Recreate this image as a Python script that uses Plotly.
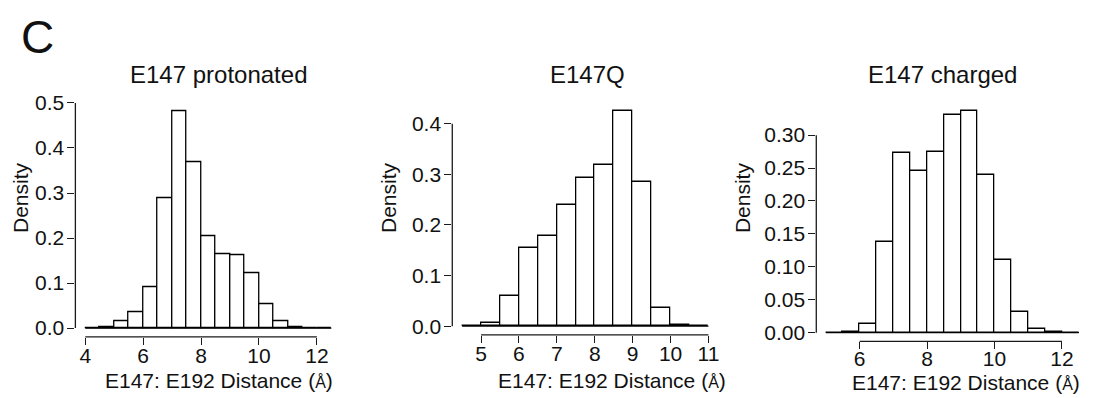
import plotly.graph_objects as go

W, H = 1103, 398

# ---- data (bin width 0.5, left edges) ----
p1_edges_start = 4.0
p1_density = [0.0, 0.0015, 0.0165, 0.035, 0.090, 0.288, 0.481, 0.368, 0.204,
              0.165, 0.161, 0.123, 0.0525, 0.0144, 0.002, 0.0007, 0.0]
p2_edges_start = 4.5
p2_density = [0.0, 0.007, 0.0594, 0.155, 0.178, 0.240, 0.292, 0.318, 0.426,
              0.286, 0.037, 0.002, 0.0]
p3_edges_start = 5.0
p3_density = [0.0, 0.0015, 0.0128, 0.138, 0.273, 0.246, 0.275, 0.330, 0.337,
              0.240, 0.111, 0.0314, 0.0059, 0.0005, 0.0]
bin_width = 0.5

titles = ["E147 protonated", "E147Q", "E147 charged"]
x_ticks = [[4, 6, 8, 10, 12], [5, 6, 7, 8, 9, 10, 11], [6, 8, 10, 12]]
y_ticks = [[0.0, 0.1, 0.2, 0.3, 0.4, 0.5], [0.0, 0.1, 0.2, 0.3, 0.4],
           [0.0, 0.05, 0.10, 0.15, 0.20, 0.25, 0.30]]
y_ticktext = [["0.0", "0.1", "0.2", "0.3", "0.4", "0.5"],
              ["0.0", "0.1", "0.2", "0.3", "0.4"],
              ["0.00", "0.05", "0.10", "0.15", "0.20", "0.25", "0.30"]]
x_label = "E147: E192 Distance (<span style='font-size:16px'>Å</span>)"
y_label = "Density"
panel_letter = "C"

# ---- layout geometry (pixels) ----
panels = [
    dict(px=(76, 337), py=(94, 337), xr=(3.658, 12.6), yr=(-0.0194, 0.504),
         title_x=220, xlab_x=221, xlab_y=382, ylab_x=20, standoff=-7),
    dict(px=(456, 716), py=(102, 335), xr=(4.241, 11.045), yr=(-0.01724, 0.4293),
         title_x=592, xlab_x=617, xlab_y=382, ylab_x=391, standoff=-7),
    dict(px=(823, 1090), py=(102, 341.7), xr=(4.715, 12.568), yr=(-0.01325, 0.3398),
         title_x=950, xlab_x=974, xlab_y=384, ylab_x=748, standoff=-9),
]
data = [(p1_edges_start, p1_density), (p2_edges_start, p2_density), (p3_edges_start, p3_density)]

FONT = "Liberation Sans, Arial, Helvetica, sans-serif"
AX = "#1a1a1a"

fig = go.Figure()
shapes = []
annotations = []

for i, (pan, (start, dens)) in enumerate(zip(panels, data)):
    n = i + 1
    xa = "x" if n == 1 else f"x{n}"
    ya = "y" if n == 1 else f"y{n}"
    centers = [start + bin_width * (k + 0.5) for k in range(len(dens))]
    fig.add_trace(go.Bar(
        x=centers, y=dens, width=bin_width, xaxis=xa, yaxis=ya,
        marker=dict(color="white", line=dict(color="black", width=1.3)),
        showlegend=False, hoverinfo="x+y"))

    xd = [pan["px"][0] / W, pan["px"][1] / W]
    yd = [1 - pan["py"][1] / H, 1 - pan["py"][0] / H]
    common = dict(showgrid=False, zeroline=False, showline=False, ticks="outside",
                  ticklen=7, tickwidth=1.2, tickcolor=AX,
                  tickfont=dict(family=FONT, size=21, color="#111"))
    fig.update_layout(**{
        ("xaxis" if n == 1 else f"xaxis{n}"): dict(
            domain=xd, range=list(pan["xr"]), anchor=ya, tickvals=x_ticks[i],
            ticklabelstandoff=pan["standoff"], **common),
        ("yaxis" if n == 1 else f"yaxis{n}"): dict(
            domain=yd, range=list(pan["yr"]), anchor=xa, tickvals=y_ticks[i],
            ticktext=y_ticktext[i], ticklabelstandoff=-1, **common),
    })
    # R-style axis lines spanning first to last tick
    shapes.append(dict(type="line", xref=xa, yref=f"{ya} domain",
                       x0=x_ticks[i][0], x1=x_ticks[i][-1], y0=0, y1=0,
                       line=dict(color=AX, width=1.3)))
    shapes.append(dict(type="line", xref=f"{xa} domain", yref=ya,
                       x0=0, x1=0, y0=y_ticks[i][0], y1=y_ticks[i][-1],
                       line=dict(color=AX, width=1.3)))
    # zero-height bins line
    shapes.append(dict(type="line", xref=xa, yref=ya,
                       x0=start, x1=start + bin_width * len(dens), y0=0, y1=0,
                       line=dict(color="black", width=1.3)))
    annotations.append(dict(text=titles[i], xref="paper", yref="paper",
                            x=pan["title_x"] / W, y=1 - 66 / H, showarrow=False,
                            xanchor="center", yanchor="middle",
                            font=dict(family=FONT, size=24, color="#111")))
    annotations.append(dict(text=x_label, xref="paper", yref="paper",
                            x=pan["xlab_x"] / W, y=1 - pan["xlab_y"] / H, showarrow=False,
                            xanchor="center", yanchor="middle",
                            font=dict(family=FONT, size=21, color="#111")))
    annotations.append(dict(text=y_label, xref="paper", yref="paper",
                            x=pan["ylab_x"] / W, y=1 - 193 / H, showarrow=False,
                            xanchor="center", yanchor="middle", textangle=-90,
                            font=dict(family=FONT, size=21, color="#111")))

annotations.append(dict(text=panel_letter, xref="paper", yref="paper",
                        x=38 / W, y=1 - 28 / H, showarrow=False,
                        xanchor="center", yanchor="middle",
                        font=dict(family=FONT, size=46, color="#111")))

fig.update_layout(width=W, height=H, margin=dict(l=0, r=0, t=0, b=0),
                  paper_bgcolor="white", plot_bgcolor="white",
                  shapes=shapes, annotations=annotations, bargap=0)

fig.write_html("out.html", config={"displayModeBar": False},
               post_script="document.body.style.margin='0';document.body.style.padding='0';")
